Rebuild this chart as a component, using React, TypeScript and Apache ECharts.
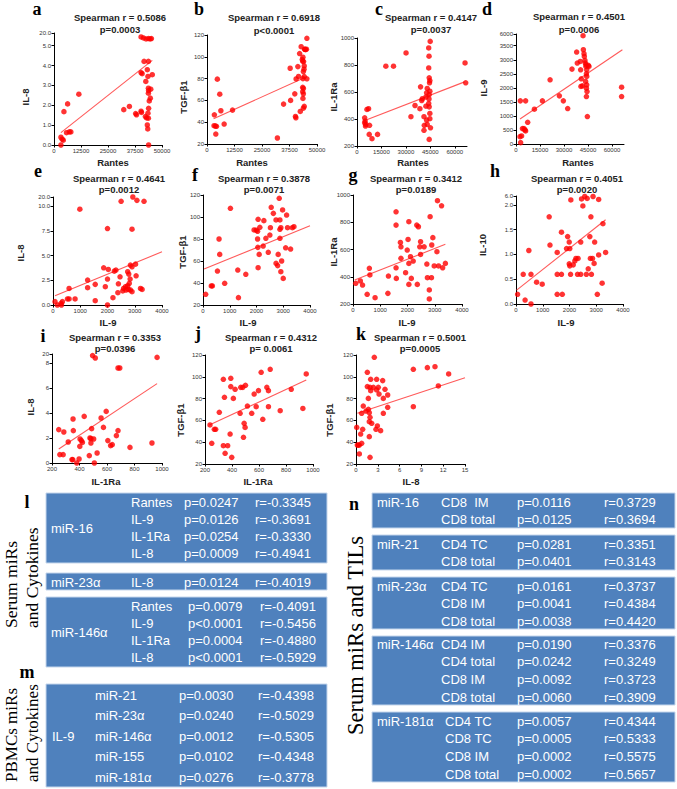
import React, { useEffect, useRef } from "react";
import * as echarts from "echarts";

// ---------- tick values ----------
const rantesTicks50k = [0, 12500, 25000, 37500, 50000];
const rantesTicks60k = [0, 15000, 30000, 45000, 60000];
const il9Ticks = [0, 1000, 2000, 3000, 4000];
const il1raXTicks = [200, 400, 600, 800, 1000];
const il8XTicks = [0, 3, 6, 9, 12, 15];

const il8aTicks = [0, 1, 2, 3, 4, 5, 5.64];
const il8aLabels = ["0.0", "1.0", "2.0", "3.0", "4.0", "5.0", "20.0"];
const tgfTicks = [20, 40, 60, 80, 100, 120];
const il1raYTicks = [200, 400, 600, 800, 1000];
const il9YTicks = [0, 500, 1000, 1500, 2000, 2500, 3000, 3500, 3917];
const il9YLabels = ["0", "500", "1000", "1500", "2000", "2500", "3000", "3500", "6000"];
const il8eTicks = [0, 2.5, 5, 7.5, 10, 10.94];
const il8eLabels = ["0.0", "2.5", "5.0", "7.5", "10.0", "20.0"];
const il10Ticks = [0, 0.5, 1, 1.5, 2, 2.18];
const il10Labels = ["0.0", "0.5", "1.0", "1.5", "2.0", "6.0"];
const il8iTicks = [0, 2, 4, 6, 8, 8.72];
const il8iLabels = ["0", "2", "4", "6", "8", "20"];

// ---------- scatter data ----------
const aPoints = [[3200,0],[3200,0.39],[3800,0.29],[4300,0.24],[4600,1.68],[5800,0.62],[6300,2.07],[7100,0.66],[7800,0.66],[11500,2.56],[32300,1.78],[34900,1.94],[37800,1.58],[38200,1.52],[40300,1.7],[40500,1.64],[40300,3.65],[40800,3.59],[41700,4.21],[42500,3.2],[42300,1.43],[42900,1.36],[43200,3.79],[43700,4.21],[43500,3.45],[43700,2.86],[43800,2.74],[43700,2.61],[44100,2.22],[44600,2.36],[44800,2.81],[43800,1.85],[43500,1.6],[43700,1.35],[43200,1.01],[43400,0.81],[43800,0],[45500,3.54],[40300,5.44],[41400,5.39],[42600,5.34],[43700,5.36],[44500,5.34],[45100,5.36]];
const aFit = [[3200,0.62],[45500,4.26]];

const bPoints = [[3350,46.8],[3200,36.8],[4300,36.2],[3800,36.5],[4000,29.1],[4700,79.5],[5800,65.7],[6300,50.5],[7800,38.3],[11600,51.1],[32000,25.5],[34800,56.6],[37800,89.5],[38000,60],[39900,66],[40200,45.3],[40400,44],[41300,91],[41600,82],[42400,49.9],[40500,79.7],[42100,103],[42800,109.3],[43600,99.6],[43900,95.6],[44200,91.6],[44100,88.6],[43800,86.5],[44500,106.9],[44800,106.5],[43300,97.5],[43500,96],[43500,72],[43800,71],[43500,68],[43800,66],[43600,61.8],[43800,52.9],[44200,54.5],[44200,81.9],[45400,79.8],[45400,117],[44400,107],[45200,107],[43600,80]];
const bFit = [[3000,43.2],[44500,81]];

const cPoints = [[4700,409],[5000,385],[5400,360],[4700,372],[5200,348],[6100,471],[7100,476],[7700,353],[7500,286],[9200,254],[12600,286],[17700,791],[22400,791],[30100,889],[33100,417],[35600,500],[38600,476],[39000,638],[39700,537],[40100,550],[41100,417],[41300,353],[41100,316],[42300,495],[42300,563],[42700,594],[43100,626],[42700,392],[43100,360],[44000,926],[44200,865],[44000,778],[44300,705],[44700,685],[44500,668],[44700,606],[44300,581],[44200,549],[44000,515],[44300,490],[44700,441],[44700,402],[45100,335],[44300,249],[44900,975],[66300,815],[66700,668]];
const cFit = [[4000,385],[66000,675]];

const dPoints = [[2500,262],[3500,286],[2900,48],[4000,548],[5000,548],[5600,500],[6000,464],[2700,1536],[6000,1536],[7300,774],[11500,1238],[16500,1536],[21300,2286],[27100,1714],[29600,1536],[32300,1262],[35000,2667],[37900,3274],[38300,2881],[40200,2940],[40400,2643],[40800,2321],[40600,2048],[41500,2071],[41900,3857],[42100,3357],[42500,3214],[42700,3119],[43100,2976],[43300,2881],[43800,2821],[43700,2762],[44200,2643],[44000,2500],[44200,2405],[43500,2226],[44200,2107],[44000,1988],[44400,1869],[44000,1690],[45200,2800],[45600,2760],[44600,976],[66000,2024],[66000,1690]];
const dFit = [[2500,893],[66500,3357]];

const ePoints = [[74,0.34],[160,0],[295,0.17],[345,0.34],[310,0],[530,0.61],[590,0.61],[590,1.68],[810,0.61],[985,9.7],[1270,2.53],[1270,1.75],[1550,2.09],[1550,0.44],[1920,1.85],[1860,3.77],[2000,7.74],[2000,2.63],[2030,3.6],[2000,0],[2200,0.74],[2250,3.43],[2310,3.54],[2380,1.25],[2400,2.15],[2460,2.86],[2500,10.5],[2560,1.42],[2590,1.68],[2660,1.85],[2680,1.52],[2740,1.95],[2770,1.58],[2800,2.2],[2740,3.37],[2780,3.13],[2830,2.63],[2840,4.04],[2900,3.87],[2900,7.68],[2840,1.52],[2900,1.35],[2930,10.94],[3080,10.6],[3340,10.5],[3050,2.96],[3030,4.14],[3210,1.68],[3270,1.58]];
const eFit = [[74,0.94],[4000,5.39]];

const fPoints = [[100,29.7],[310,37.3],[350,37.3],[540,50.9],[600,80],[625,66],[810,39.7],[1025,107.9],[1300,51.8],[1325,26.7],[1600,47.9],[1910,88.2],[1990,88],[2040,87],[2040,80],[2060,97.9],[2050,72.4],[2100,66],[2060,53.9],[2125,90.6],[2250,73.6],[2275,96.7],[2350,80.6],[2440,67.9],[2500,83.6],[2520,90.3],[2550,108.8],[2630,103.3],[2730,97.3],[2730,57.9],[2790,55.8],[2810,66],[2850,117],[2875,97.3],[2875,88.8],[2875,80.6],[2910,90.3],[2910,50.3],[2940,60],[2975,106.4],[3000,44.2],[3090,72],[3125,101.8],[3160,90.3],[3275,70.9],[3340,90.3],[3400,91.2]];
const fFit = [[40,52.7],[4000,92]];

const gPoints = [[100,352],[270,369],[350,339],[520,271],[600,462],[620,413],[810,246],[1280,278],[1300,405],[1580,877],[1580,779],[1580,466],[1590,388],[1740,652],[1760,620],[1760,535],[1930,430],[1990,596],[2020,674],[2050,804],[2050,498],[2050,344],[2110,547],[2140,388],[2210,515],[2340,779],[2400,767],[2360,344],[2450,620],[2480,657],[2480,564],[2610,620],[2710,493],[2730,393],[2800,303],[2800,237],[2830,841],[2880,393],[2890,633],[2930,687],[2980,479],[3080,584],[3100,958],[3140,479],[3250,921],[3290,466],[3390,498]];
const gFit = [[60,376],[3390,638]];

const hPoints = [[60,0.195],[270,0.6],[340,0.08],[480,1.08],[560,0.6],[560,0],[770,0.44],[980,0.4],[1240,1.76],[1270,1.19],[1540,1.04],[1540,0.6],[1540,0.195],[1700,1.45],[1700,0.6],[1730,0.195],[1890,1.12],[1930,1.36],[1990,1.25],[2010,1.12],[1990,0.81],[2010,0.77],[2040,0.6],[2050,2.1],[2140,0.79],[2200,0.87],[2240,0.92],[2320,0.92],[2300,0.6],[2420,0.6],[2420,1.25],[2450,2.12],[2500,1.98],[2570,2.17],[2630,0.6],[2660,2.13],[2700,0.71],[2760,1.36],[2800,1.76],[2780,0.92],[2820,0.6],[2860,0.92],[2880,2.17],[2920,0.82],[2940,1.25],[3040,0.195],[3090,0.99],[3090,2.11],[3220,0.42],[3250,1.62],[3350,1.04]];
const hFit = [[25,0.28],[3350,1.7]];

const iPoints = [[249,2.67],[257,0.67],[281,0.67],[286,2.48],[318,1.68],[345,0.27],[351,0.27],[353,3.52],[355,2.59],[380,0],[397,0.32],[402,1.33],[404,1.92],[414,1.79],[421,1.65],[434,3.73],[471,0.59],[476,2.0],[483,1.95],[483,1.6],[488,2.75],[495,8.59],[503,1.92],[508,0],[515,8.4],[528,0.8],[557,3.6],[574,2.85],[594,4.13],[606,1.79],[626,1.39],[638,1.47],[668,2.19],[680,2.59],[680,7.6],[693,7.6],[767,1.25],[927,1.6],[964,8.45]];
const iFit = [[249,1.12],[964,6.35]];

const jPoints = [[237,55.8],[250,39],[269,51.8],[279,51.8],[306,67.4],[336,97.7],[344,81.2],[336,36.8],[349,29.8],[368,36.8],[386,47.5],[391,98.6],[391,91],[398,26.1],[410,80.2],[423,88.5],[460,66.5],[465,90.3],[480,90.3],[485,44.5],[490,57.3],[497,53.6],[500,92.2],[514,73.2],[546,66.5],[564,84.2],[579,72.6],[596,87.3],[616,104.1],[628,61],[658,90.3],[670,87.3],[670,72.6],[683,106.9],[757,68.9],[839,88.5],[925,71],[950,102.6]];
const jFit = [[232,55.8],[950,97]];

const kPoints = [[0.1,53.6],[0.18,37.4],[0.32,37.4],[0.46,37.4],[0.46,29.2],[0.64,47.5],[0.78,39],[0.92,51.8],[0.78,66.5],[1.0,73.2],[1.38,68.6],[1.56,104.1],[1.56,91],[1.7,80.2],[1.7,70.2],[1.83,67.1],[1.93,62.8],[1.83,58.8],[1.83,45.1],[1.93,90.3],[2.02,97.7],[2.02,87.3],[1.93,26.1],[2.16,57.3],[2.39,90.3],[2.52,117.9],[2.75,51.8],[2.84,97.7],[2.84,87.9],[2.94,54.9],[3.07,90.3],[3.17,84.2],[3.39,50.6],[3.67,96.5],[3.76,80.2],[3.76,66.5],[3.99,88.5],[4.36,83.3],[4.36,72],[7.89,106.9],[7.89,72.6],[9.82,108.4],[10.87,109.3],[11.33,91.6],[12.75,102.6]];
const kFit = [[0.18,66.5],[15,99.2]];

// ---------- table data ----------
const lMiR16Rows = [["Rantes","p=0.0247","r=-0.3345"],["IL-9","p=0.0126","r=-0.3691"],["IL-1Ra","p=0.0254","r=-0.3330"],["IL-8","p=0.0009","r=-0.4941"]];
const lMiR23Rows = [["IL-8","p=0.0124","r=-0.4019"]];
const lMiR146Rows = [["Rantes","p=0.0079","r=-0.4091"],["IL-9","p<0.0001","r=-0.5456"],["IL-1Ra","p=0.0004","r=-0.4880"],["IL-8","p<0.0001","r=-0.5929"]];
const mIL9Rows = [["miR-21","p=0.0030","r=-0.4398"],["miR-23α","p=0.0240","r=-0.5029"],["miR-146α","p=0.0012","r=-0.5305"],["miR-155","p=0.0102","r=-0.4348"],["miR-181α","p=0.0276","r=-0.3778"]];
const nMiR16Rows = [["CD8  IM","p=0.0116","r=0.3729"],["CD8 total","p=0.0125","r=0.3694"]];
const nMiR21Rows = [["CD4 TC","p=0.0281","r=0.3351"],["CD8 total","p=0.0401","r=0.3143"]];
const nMiR23Rows = [["CD4 TC","p=0.0161","r=0.3737"],["CD8 IM","p=0.0041","r=0.4384"],["CD8 total","p=0.0038","r=0.4420"]];
const nMiR146Rows = [["CD4 IM","p=0.0190","r=0.3376"],["CD4 total","p=0.0242","r=0.3249"],["CD8 IM","p=0.0092","r=0.3723"],["CD8 total","p=0.0060","r=0.3909"]];
const nMiR181Rows = [["CD4 TC","p=0.0057","r=0.4344"],["CD8 TC","p=0.0005","r=0.5333"],["CD8 IM","p=0.0002","r=0.5575"],["CD8 total","p=0.0002","r=0.5657"]];

const SANS = "'Liberation Sans', Arial, sans-serif";
const SERIF = "'Liberation Serif', 'Times New Roman', serif";

type Panel = {
  letter: string; points: number[][]; fit: number[][]; stat: string[];
  xName: string; yName: string; xTicks: number[]; xMax: number;
  yTicks: number[]; yLabels: string[];
  box: number[]; letterPos: number[]; statPos: number[]; yNamePos: number[]; xNamePos: number[];
};

const fmt = (ticks: number[]) => ticks.map((t) => String(t));

const panels: Panel[] = [
  { letter: "a", points: aPoints, fit: aFit, stat: ["Spearman r = 0.5086", "p=0.0003"], xName: "Rantes", yName: "IL-8",
    xTicks: rantesTicks50k, xMax: 50000, yTicks: il8aTicks, yLabels: il8aLabels,
    box: [54, 33, 108, 112], letterPos: [37, 9], statPos: [120, 17, 29], yNamePos: [25, 97], xNamePos: [113, 162] },
  { letter: "b", points: bPoints, fit: bFit, stat: ["Spearman r = 0.6918", "p<0.0001"], xName: "Rantes", yName: "TGF-β1",
    xTicks: rantesTicks50k, xMax: 50000, yTicks: tgfTicks, yLabels: fmt(tgfTicks),
    box: [207, 35, 110, 109], letterPos: [199, 9], statPos: [274, 17, 30], yNamePos: [183, 97], xNamePos: [252, 162] },
  { letter: "c", points: cPoints, fit: cFit, stat: ["Spearman r = 0.4147", "p=0.0037"], xName: "Rantes", yName: "IL-1Ra",
    xTicks: rantesTicks60k, xMax: 67500, yTicks: il1raYTicks, yLabels: fmt(il1raYTicks),
    box: [357, 38, 110, 108], letterPos: [379, 9], statPos: [431, 17, 29], yNamePos: [333, 97], xNamePos: [413, 162] },
  { letter: "d", points: dPoints, fit: dFit, stat: ["Spearman r = 0.4501", "p=0.0006"], xName: "Rantes", yName: "IL-9",
    xTicks: rantesTicks60k, xMax: 67500, yTicks: il9YTicks, yLabels: il9YLabels,
    box: [516, 34, 108, 110], letterPos: [487, 9], statPos: [579, 16, 29], yNamePos: [483, 88], xNamePos: [578, 162] },
  { letter: "e", points: ePoints, fit: eFit, stat: ["Spearman r = 0.4641", "p=0.0012"], xName: "IL-9", yName: "IL-8",
    xTicks: il9Ticks, xMax: 4000, yTicks: il8eTicks, yLabels: il8eLabels,
    box: [53, 197, 109, 108], letterPos: [38, 171], statPos: [119, 178, 189], yNamePos: [20, 253], xNamePos: [108, 322] },
  { letter: "f", points: fPoints, fit: fFit, stat: ["Spearman r = 0.3878", "p=0.0071"], xName: "IL-9", yName: "TGF-β1",
    xTicks: il9Ticks, xMax: 4000, yTicks: tgfTicks, yLabels: fmt(tgfTicks),
    box: [203, 195, 107, 110], letterPos: [195, 175], statPos: [264, 178, 189], yNamePos: [182, 252], xNamePos: [248, 322] },
  { letter: "g", points: gPoints, fit: gFit, stat: ["Spearman r = 0.3412", "p=0.0189"], xName: "IL-9", yName: "IL-1Ra",
    xTicks: il9Ticks, xMax: 4000, yTicks: il1raYTicks, yLabels: fmt(il1raYTicks),
    box: [353, 195, 109, 109], letterPos: [353, 175], statPos: [416, 178, 189], yNamePos: [333, 252], xNamePos: [407, 322] },
  { letter: "h", points: hPoints, fit: hFit, stat: ["Spearman r = 0.4051", "p=0.0020"], xName: "IL-9", yName: "IL-10",
    xTicks: il9Ticks, xMax: 4000, yTicks: il10Ticks, yLabels: il10Labels,
    box: [516, 196, 107, 108], letterPos: [495, 171], statPos: [577, 178, 189], yNamePos: [482, 245], xNamePos: [566, 322] },
  { letter: "i", points: iPoints, fit: iFit, stat: ["Spearman r = 0.3353", "p=0.0396"], xName: "IL-1Ra", yName: "IL-8",
    xTicks: il1raXTicks, xMax: 1000, yTicks: il8iTicks, yLabels: il8iLabels,
    box: [52, 354, 110, 109], letterPos: [43, 336], statPos: [115, 337, 348], yNamePos: [30, 407], xNamePos: [106, 481] },
  { letter: "j", points: jPoints, fit: jFit, stat: ["Spearman r = 0.4312", "p= 0.0061"], xName: "IL-1Ra", yName: "TGF-β1",
    xTicks: il1raXTicks, xMax: 1000, yTicks: tgfTicks, yLabels: fmt(tgfTicks),
    box: [205, 355, 108, 109], letterPos: [198, 333], statPos: [271, 337, 348], yNamePos: [180, 420], xNamePos: [258, 481] },
  { letter: "k", points: kPoints, fit: kFit, stat: ["Spearman r = 0.5001", "p=0.0005"], xName: "IL-8", yName: "TGF-β1",
    xTicks: il8XTicks, xMax: 15, yTicks: tgfTicks, yLabels: fmt(tgfTicks),
    box: [356, 355, 109, 109], letterPos: [361, 334], statPos: [420, 337, 348], yNamePos: [329, 420], xNamePos: [411, 481] },
];

type Block = { label: string; rows: string[][]; rect: number[]; labelPos: number[]; cols: number[]; y0: number; step: number };

const leftBlocks: Block[] = [
  { label: "miR-16", rows: lMiR16Rows, rect: [46, 493, 281, 70], labelPos: [51, 528], cols: [131, 184, 255], y0: 502, step: 17.3 },
  { label: "miR-23α", rows: lMiR23Rows, rect: [46, 573, 281, 17], labelPos: [51, 582], cols: [131, 184, 255], y0: 582, step: 17 },
  { label: "miR-146α", rows: lMiR146Rows, rect: [46, 597, 281, 70], labelPos: [51, 632], cols: [131, 188, 260], y0: 606, step: 17.3 },
  { label: "IL-9", rows: mIL9Rows, rect: [46, 684, 281, 103], labelPos: [52, 736], cols: [95, 179, 258], y0: 695, step: 20.5 },
];
const rightBlocks: Block[] = [
  { label: "miR-16", rows: nMiR16Rows, rect: [372, 493, 303, 35], labelPos: [377, 502], cols: [441, 517, 604], y0: 502, step: 17.5 },
  { label: "miR-21", rows: nMiR21Rows, rect: [372, 535, 303, 35], labelPos: [377, 544], cols: [441, 517, 604], y0: 544, step: 17.7 },
  { label: "miR-23α", rows: nMiR23Rows, rect: [372, 577, 303, 52], labelPos: [377, 586], cols: [441, 517, 604], y0: 586, step: 17.7 },
  { label: "miR-146α", rows: nMiR146Rows, rect: [372, 636, 303, 69], labelPos: [377, 644], cols: [441, 517, 604], y0: 644, step: 17.7 },
  { label: "miR-181α", rows: nMiR181Rows, rect: [372, 712, 303, 70], labelPos: [377, 721], cols: [445, 517, 604], y0: 721, step: 17.7 },
];

function txt(x: number, y: number, text: string, o: any = {}) {
  return {
    type: "text", x, y, rotation: o.rotation || 0, silent: true, z: 10,
    style: {
      text, fill: o.fill || "#000", fontSize: o.size || 10, fontFamily: o.family || SANS,
      fontWeight: o.weight || "normal", align: o.align || "center", verticalAlign: o.valign || "middle",
    },
  };
}

export default function App() {
  const ref = useRef<HTMLDivElement>(null);
  useEffect(() => {
    if (!ref.current) return;
    const chart = echarts.init(ref.current, undefined, { renderer: "svg" });
    const grids: any[] = [];
    const xAxes: any[] = [];
    const yAxes: any[] = [];
    const series: any[] = [];
    const graphic: any[] = [];
    const axisCommon = {
      type: "value",
      splitLine: { show: false },
      axisLine: { show: true, onZero: false, lineStyle: { color: "#000", width: 1 } },
    };
    panels.forEach((p, i) => {
      grids.push({ left: p.box[0], top: p.box[1], width: p.box[2], height: p.box[3], containLabel: false });
      xAxes.push({
        ...axisCommon, gridIndex: i, min: p.xTicks[0], max: p.xMax,
        axisTick: { show: true, length: 2.5, customValues: p.xTicks, lineStyle: { color: "#000" } },
        axisLabel: { customValues: p.xTicks, fontSize: 6, color: "#333", margin: 3, fontFamily: SANS, formatter: (v: number) => String(v) },
      });
      const yt = p.yTicks, yl = p.yLabels;
      yAxes.push({
        ...axisCommon, gridIndex: i, min: yt[0], max: yt[yt.length - 1],
        axisTick: { show: true, length: 2.5, customValues: yt, lineStyle: { color: "#000" } },
        axisLabel: {
          customValues: yt, fontSize: 6, color: "#333", margin: 3, fontFamily: SANS,
          formatter: (v: number) => { const k = yt.indexOf(v); return k >= 0 ? yl[k] : String(v); },
        },
      });
      series.push({
        type: "line", xAxisIndex: i, yAxisIndex: i, data: p.fit, symbol: "none", silent: true,
        lineStyle: { color: "#ff5a5a", width: 1.1 }, z: 2,
      });
      series.push({
        type: "scatter", xAxisIndex: i, yAxisIndex: i, data: p.points, symbolSize: 5.5, silent: true,
        itemStyle: { color: "#ff0000" }, z: 3,
      });
      graphic.push(txt(p.letterPos[0], p.letterPos[1], p.letter, { size: 18, weight: "bold", family: SERIF }));
      graphic.push(txt(p.statPos[0], p.statPos[1], p.stat[0], { size: 9.5, weight: "bold", fill: "#222" }));
      graphic.push(txt(p.statPos[0], p.statPos[2], p.stat[1], { size: 9.5, weight: "bold", fill: "#222" }));
      graphic.push(txt(p.yNamePos[0], p.yNamePos[1], p.yName, { size: 9.5, weight: "bold", fill: "#222", rotation: Math.PI / 2 }));
      graphic.push(txt(p.xNamePos[0], p.xNamePos[1], p.xName, { size: 9.5, weight: "bold", fill: "#222" }));
    });

    const drawBlock = (b: Block) => {
      graphic.push({
        type: "rect", silent: true, z: 5,
        shape: { x: b.rect[0], y: b.rect[1], width: b.rect[2], height: b.rect[3] },
        style: { fill: "#4f81bd", stroke: "#c5d6ec", lineWidth: 1 },
      });
      graphic.push(txt(b.labelPos[0], b.labelPos[1], b.label, { size: 13, fill: "#fff", align: "left" }));
      b.rows.forEach((r, k) => {
        const y = b.y0 + k * b.step;
        r.forEach((cell, c) => graphic.push(txt(b.cols[c], y, cell, { size: 13, fill: "#fff", align: "left" })));
      });
    };
    leftBlocks.forEach(drawBlock);
    rightBlocks.forEach(drawBlock);

    graphic.push(txt(27, 502, "l", { size: 18, weight: "bold", family: SERIF }));
    graphic.push(txt(27, 672, "m", { size: 18, weight: "bold", family: SERIF }));
    graphic.push(txt(354, 504, "n", { size: 18, weight: "bold", family: SERIF }));
    graphic.push(txt(11, 628, "Serum miRs", { size: 17.5, family: SERIF, align: "left", rotation: Math.PI / 2 }));
    graphic.push(txt(32, 628, "and Cytokines", { size: 17.5, family: SERIF, align: "left", rotation: Math.PI / 2 }));
    graphic.push(txt(11, 782, "PBMCs miRs", { size: 17, family: SERIF, align: "left", rotation: Math.PI / 2 }));
    graphic.push(txt(32, 782, "and Cytokines", { size: 17, family: SERIF, align: "left", rotation: Math.PI / 2 }));
    graphic.push(txt(355, 735, "Serum miRs and TILs", { size: 22.5, family: SERIF, align: "left", rotation: Math.PI / 2 }));

    chart.setOption({
      animation: false,
      backgroundColor: "#fff",
      grid: grids,
      xAxis: xAxes,
      yAxis: yAxes,
      series,
      graphic,
    });
    return () => chart.dispose();
  }, []);
  return <div ref={ref} style={{ position: "absolute", left: 0, top: 0, width: 677, height: 789 }} />;
}
